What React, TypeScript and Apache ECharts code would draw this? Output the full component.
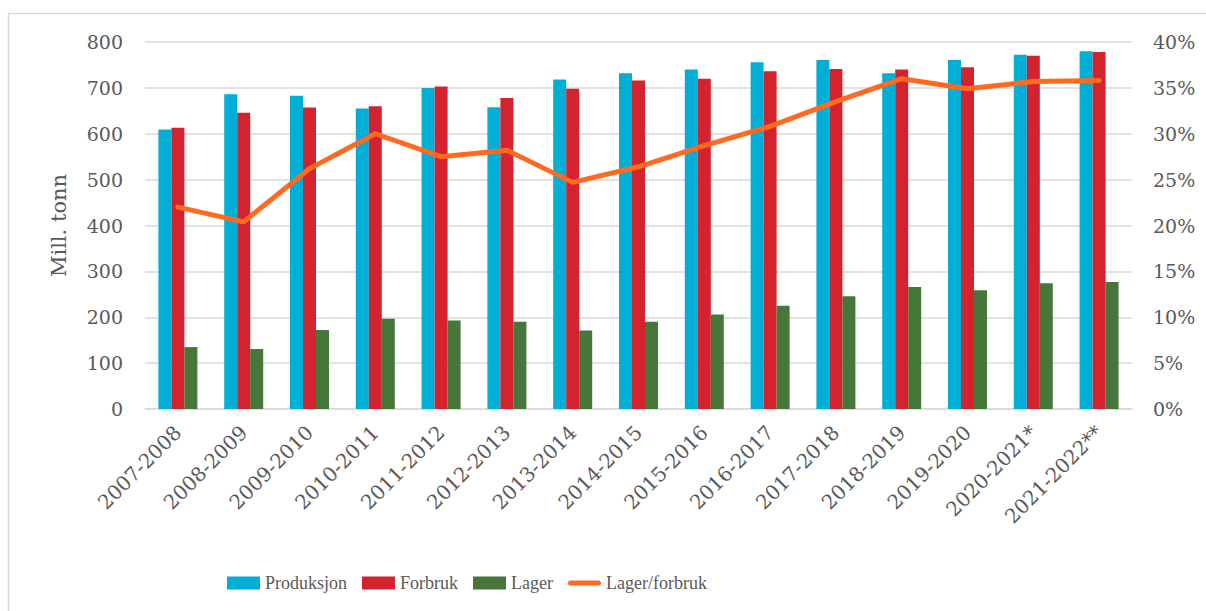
import React, { useEffect, useRef } from "react";
import * as echarts from "echarts";

const categories = [
  "2007-2008", "2008-2009", "2009-2010", "2010-2011", "2011-2012",
  "2012-2013", "2013-2014", "2014-2015", "2015-2016", "2016-2017",
  "2017-2018", "2018-2019", "2019-2020", "2020-2021*", "2021-2022**",
];
const produksjon = [609, 686, 683, 655, 700, 658, 718, 732, 740, 756, 761, 732, 761, 772, 780];
const forbruk = [613, 646, 657, 660, 703, 678, 698, 716, 720, 736, 741, 740, 745, 770, 778];
const lager = [135, 131, 172, 197, 193, 190, 171, 190, 206, 225, 246, 266, 259, 274, 277];
const lagerForbruk = [22.0, 20.4, 26.2, 30.0, 27.5, 28.2, 24.7, 26.4, 28.7, 30.8, 33.5, 36.0, 34.9, 35.7, 35.8];

const leftTicks = { min: 0, max: 800, interval: 100 };
const rightTicks = { min: 0, max: 40, interval: 5 };

const COLORS = {
  blue: "#00AED6",
  red: "#D3232F",
  green: "#47763A",
  orange: "#FF6A20",
  text: "#595959",
  grid: "#D9D9D9",
};

export default function App() {
  const ref = useRef<HTMLDivElement>(null);

  useEffect(() => {
    if (!ref.current) return;
    const chart = echarts.init(ref.current, undefined, { renderer: "svg" });
    const axisFont = { fontFamily: "DejaVu Serif", fontSize: 19, color: COLORS.text };
    chart.setOption({
      animation: false,
      backgroundColor: "#ffffff",
      graphic: [
        {
          type: "rect",
          shape: { x: 8.5, y: 13.5, width: 1230, height: 640 },
          style: { fill: "none", stroke: COLORS.grid, lineWidth: 1.5 },
          silent: true,
        },
      ],
      grid: { left: 145, right: 74, top: 42, bottom: 202 },
      legend: {
        left: 222,
        top: 569,
        itemWidth: 33,
        itemHeight: 13,
        itemGap: 15,
        textStyle: { fontFamily: "Liberation Serif", fontSize: 18, color: COLORS.text },
        data: [
          { name: "Produksjon", icon: "rect" },
          { name: "Forbruk", icon: "rect" },
          { name: "Lager", icon: "rect" },
          {
            name: "Lager/forbruk",
            icon: "path://M2.5,0 L30.5,0 A2.5,2.5 0 0 1 30.5,5 L2.5,5 A2.5,2.5 0 0 1 2.5,0 Z",
          },
        ],
      },
      xAxis: {
        type: "category",
        data: categories,
        axisLine: { lineStyle: { color: COLORS.grid, width: 1.5 } },
        axisTick: { show: false },
        axisLabel: { ...axisFont, fontSize: 20, rotate: 45, margin: 20, interval: 0 },
      },
      yAxis: [
        {
          type: "value",
          ...leftTicks,
          name: "Mill. tonn",
          nameLocation: "middle",
          nameGap: 76,
          nameTextStyle: { fontFamily: "DejaVu Serif", fontSize: 21, color: COLORS.text },
          axisLine: { show: false },
          axisTick: { show: false },
          axisLabel: { ...axisFont, margin: 22 },
          splitLine: { lineStyle: { color: COLORS.grid, width: 1.5 } },
        },
        {
          type: "value",
          ...rightTicks,
          position: "right",
          axisLine: { show: false },
          axisTick: { show: false },
          axisLabel: { ...axisFont, margin: 21, formatter: "{value}%" },
          splitLine: { show: false },
        },
      ],
      series: [
        {
          name: "Produksjon",
          type: "bar",
          data: produksjon,
          barWidth: 13,
          barGap: "0%",
          itemStyle: { color: COLORS.blue },
        },
        {
          name: "Forbruk",
          type: "bar",
          data: forbruk,
          barWidth: 13,
          barGap: "0%",
          itemStyle: { color: COLORS.red },
        },
        {
          name: "Lager",
          type: "bar",
          data: lager,
          barWidth: 13,
          barGap: "0%",
          itemStyle: { color: COLORS.green },
        },
        {
          name: "Lager/forbruk",
          type: "line",
          yAxisIndex: 1,
          data: lagerForbruk,
          symbol: "none",
          lineStyle: { color: COLORS.orange, width: 5, cap: "round", join: "round" },
          itemStyle: { color: COLORS.orange },
          z: 5,
        },
      ],
    });
    return () => chart.dispose();
  }, []);

  return (
    <div
      ref={ref}
      style={{ position: "fixed", left: 0, top: 0, width: 1206, height: 611 }}
    />
  );
}
